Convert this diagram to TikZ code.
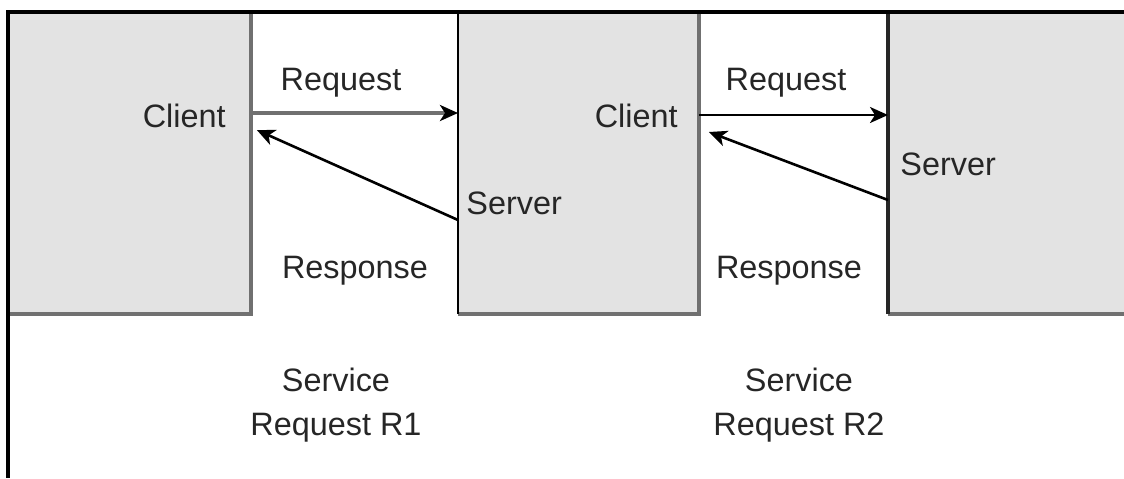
\documentclass[tikz,border=0pt]{standalone}
\usepackage{fontspec}
\setmainfont{Liberation Sans}
\usetikzlibrary{arrows.meta,calc}
\definecolor{panelgray}{HTML}{E3E3E3}
\definecolor{rimgray}{HTML}{707070}
\begin{document}
\begin{tikzpicture}[x=0.5pt,y=-0.5pt,
  panel/.style={fill=panelgray, draw=none, inner sep=0pt, minimum height=150pt, anchor=north west},
  rim/.style={draw=rimgray, line width=1.8pt},
  frame/.style={draw=black, line width=2pt},
  lbl/.style={font=\fontsize{16.2}{22}\selectfont, text=black!85, inner sep=0pt},
  tip/.style={-{Stealth[length=9pt,width=8pt,inset=2.5pt,color=black]}},
  msg/.style={tip, draw=black, line width=1.3pt},
  graymsg/.style={tip, draw=rimgray, line width=1.8pt}
]
\useasboundingbox (0,0) rectangle (1124,478);

% the three processes
\node[panel, minimum width=121pt] (A) at (8,13) {};
\node[panel, minimum width=120pt] (B) at (458,13) {};
\node[panel, minimum width=120pt] (C) at (888,13) {};

% box edges
\draw[rim] (A.north east) -- (A.south east) -- (A.south west);
\draw[rim] (B.north east) -- (B.south east) -- (B.south west);
\draw[rim] (C.south west) -- (C.south east);
\draw[draw=black, line width=1.2pt] (B.north west) -- (B.south west);
\draw[draw=black!85, line width=1.6pt] (C.north west) -- (C.south west);

% outer frame: top and left
\coordinate (tl) at (8,12);
\coordinate (tr) at (1124,12);
\coordinate (bl) at (8,478);
\draw[frame] (tr) -- (tl) -- (bl);

% request / response messages
\draw[graymsg] ($(A.north east)+(0,100)$) -- ($(B.north west)+(0,100)$);
\draw[msg] ($(B.north west)+(0,207)$) -- ($(A.north east)+(6,117)$);
\draw[msg] ($(B.north east)+(0,102)$) -- ($(C.north west)+(0,102)$);
\draw[msg] ($(C.north west)+(0,187)$) -- ($(B.north east)+(10,119)$);

% labels
\node[lbl, anchor=base east] (cl1) at (226,127) {Client};
\node[lbl, anchor=base] (rq1) at (341,90) {Request};
\node[lbl, anchor=base] (rs1) at (355,278) {Response};
\node[lbl, anchor=base west] (sv1) at (466,214) {Server};
\node[lbl, anchor=base east] (cl2) at (678,127) {Client};
\node[lbl, anchor=base] (rq2) at (786,90) {Request};
\node[lbl, anchor=base west] (sv2) at (900,175) {Server};
\node[lbl, anchor=base] (rs2) at (789,278) {Response};
\node[lbl, align=center] (sr1) at (336,405) {Service\\Request R1};
\node[lbl, align=center] (sr2) at (799,405) {Service\\Request R2};
\end{tikzpicture}
\end{document}
